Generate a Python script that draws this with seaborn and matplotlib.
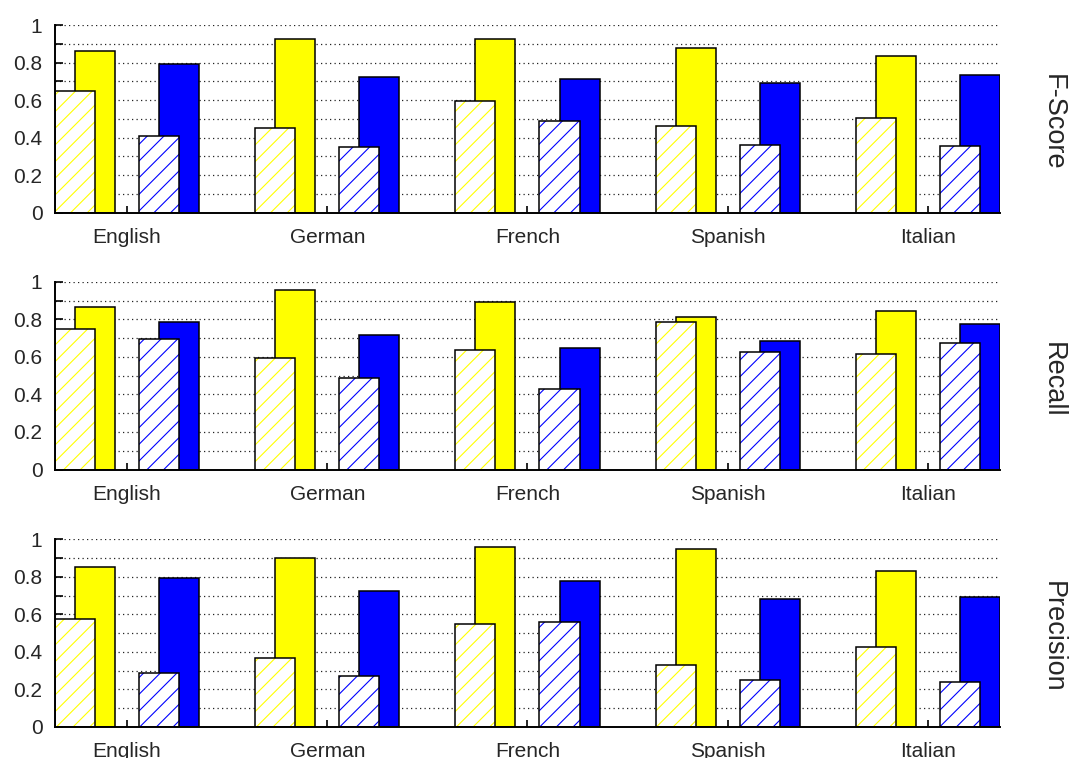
import numpy as np
import matplotlib
matplotlib.use("Agg")
import matplotlib.pyplot as plt
from matplotlib.patches import Rectangle
from matplotlib.ticker import MultipleLocator, FuncFormatter
import seaborn as sns

# ---- data -------------------------------------------------------------
languages = ["English", "German", "French", "Spanish", "Italian"]
metrics = ["F-Score", "Recall", "Precision"]

fscore_yellow_hatched = [0.650, 0.453, 0.593, 0.464, 0.506]
fscore_yellow_solid = [0.861, 0.925, 0.925, 0.877, 0.837]
fscore_blue_hatched = [0.407, 0.348, 0.487, 0.359, 0.355]
fscore_blue_solid = [0.790, 0.721, 0.710, 0.689, 0.732]

recall_yellow_hatched = [0.751, 0.593, 0.639, 0.785, 0.618]
recall_yellow_solid = [0.868, 0.954, 0.893, 0.810, 0.842]
recall_blue_hatched = [0.693, 0.485, 0.430, 0.625, 0.675]
recall_blue_solid = [0.785, 0.718, 0.650, 0.687, 0.773]

precision_yellow_hatched = [0.574, 0.368, 0.549, 0.329, 0.428]
precision_yellow_solid = [0.854, 0.900, 0.957, 0.950, 0.830]
precision_blue_hatched = [0.289, 0.270, 0.560, 0.250, 0.240]
precision_blue_solid = [0.794, 0.723, 0.778, 0.682, 0.695]

panels = [
    (fscore_yellow_hatched, fscore_yellow_solid, fscore_blue_hatched, fscore_blue_solid),
    (recall_yellow_hatched, recall_yellow_solid, recall_blue_hatched, recall_blue_solid),
    (precision_yellow_hatched, precision_yellow_solid, precision_blue_hatched, precision_blue_solid),
]

# ---- style ------------------------------------------------------------
sns.set_theme(style="white")
plt.rcParams["font.family"] = ["Liberation Sans", "DejaVu Sans"]
plt.rcParams["hatch.linewidth"] = 0.8

YELLOW = "#ffff00"
BLUE = "#0000ff"
BAR_W = 0.2
EDGE_LW = 1.1

fig = plt.figure(figsize=(10.72, 7.58), dpi=100)
left, width, height = 0.0513, 0.8815, 0.2476
bottoms = [0.7194, 0.3806, 0.0409]

pos = np.arange(len(languages))


def solid_bars(ax, x, vals, color):
    sns.barplot(x=x, y=vals, native_scale=True, width=BAR_W, color=color,
                saturation=1, errorbar=None, edgecolor="black",
                linewidth=EDGE_LW, ax=ax)


def hatched_bars(ax, x, vals, color):
    sns.barplot(x=x, y=vals, native_scale=True, width=BAR_W, color="white",
                saturation=1, errorbar=None, edgecolor=color, linewidth=0,
                hatch="//", ax=ax)
    # black outline on top of the coloured hatching
    for p in ax.containers[-1]:
        ax.add_patch(Rectangle((p.get_x(), p.get_y()), p.get_width(),
                               p.get_height(), fill=False,
                               edgecolor="black", linewidth=EDGE_LW,
                               zorder=p.get_zorder()))


for metric, (yh, ys, bh, bs), bottom in zip(metrics, panels, bottoms):
    ax = fig.add_axes([left, bottom, width, height])
    ax.set_axisbelow(True)

    solid_bars(ax, pos - 0.16, ys, YELLOW)
    hatched_bars(ax, pos - 0.26, yh, YELLOW)
    solid_bars(ax, pos + 0.26, bs, BLUE)
    hatched_bars(ax, pos + 0.16, bh, BLUE)

    ax.set_xlim(-0.36, 4.36)
    ax.set_ylim(0, 1)
    ax.set_xticks(pos)
    ax.set_xticklabels(languages)
    ax.set_xlabel("")
    ax.set_ylabel("")

    ax.yaxis.set_major_locator(MultipleLocator(0.2))
    ax.yaxis.set_minor_locator(MultipleLocator(0.1))
    ax.yaxis.set_major_formatter(FuncFormatter(lambda v, _: f"{v:g}"))

    ax.grid(True, axis="y", which="both", color="#222222",
            linestyle=(0, (1, 2.6)), linewidth=0.9)
    ax.grid(False, axis="x")

    for side in ("top", "right"):
        ax.spines[side].set_visible(False)
    for side in ("left", "bottom"):
        ax.spines[side].set_color("black")
        ax.spines[side].set_linewidth(1.4)

    ax.tick_params(axis="y", which="both", direction="in", length=6,
                   width=1.2, color="black", labelsize=15, pad=9,
                   left=True)
    ax.tick_params(axis="x", direction="in", length=5, width=1.2,
                   color="black", labelsize=15, pad=11, bottom=True)

    ax.text(1.056, 0.48, metric, transform=ax.transAxes, rotation=270,
            ha="center", va="center", fontsize=19.5)

fig.savefig("out.png", dpi=100)
